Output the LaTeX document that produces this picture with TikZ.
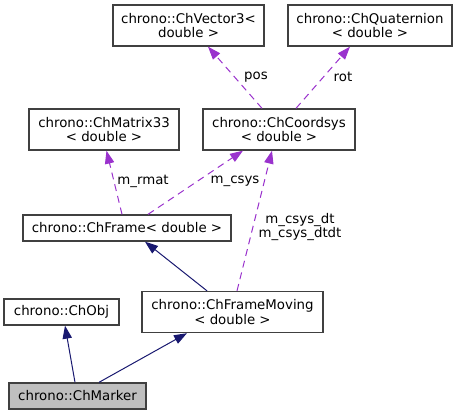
\documentclass[tikz,border=0pt]{standalone}
\usepackage{fontspec}
\setmainfont{DejaVu Sans}
\usetikzlibrary{arrows.meta,calc}
\definecolor{navy}{HTML}{191970}
\definecolor{orchid}{HTML}{9A32CD}
\definecolor{border}{HTML}{404040}
\definecolor{markfill}{HTML}{BFBFBF}
\tikzset{
  cls/.style={draw=border, line width=1pt, fill=white, inner sep=0pt, align=center,
    font=\fontsize{10}{11.2}\selectfont, minimum height=#1},
  cls/.default=30.75pt,
  inh/.style={draw=navy, line width=0.75pt, -{Triangle[length=9.75pt,width=7pt]}},
  use/.style={draw=orchid, line width=0.75pt, dash pattern=on 5.25pt off 3.75pt, -{Triangle[length=9.75pt,width=7pt]}},
  lbl/.style={font=\fontsize{10}{10.5}\selectfont, align=center, inner sep=0pt}
}
\begin{document}
\begin{tikzpicture}[x=0.75pt,y=-0.75pt]
\useasboundingbox (0,0) rectangle (457,415);
\node[cls, minimum width=113.25pt] (vec) at (188.5,25.5) {chrono::ChVector3<\\double >};
\node[cls, minimum width=123pt] (quat) at (370,25.5) {chrono::ChQuaternion\\< double >};
\node[cls, minimum width=114pt] (coord) at (279,129.5) {chrono::ChCoordsys\\< double >};
\node[cls, minimum width=112.5pt] (mat) at (104,129.5) {chrono::ChMatrix33\\< double >};
\node[cls=19.5pt, minimum width=156pt] (frame) at (127,228) {chrono::ChFrame< double >};
\node[cls, minimum width=135.75pt] (fmov) at (232.5,312) {chrono::ChFrameMoving\\< double >};
\node[cls=19.5pt, minimum width=86.25pt] (obj) at (61.5,312) {chrono::ChObj};
\node[cls=19.5pt, minimum width=102.75pt, fill=markfill] (marker) at (77.5,396) {chrono::ChMarker};

\draw[use] ($(coord.north)+(-17,0)$) -- ($(vec.south)+(19.5,0)$);
\draw[use] ($(coord.north)+(17,0)$) -- ($(quat.south)+(-20,0)$);
\draw[use] ($(frame.north)+(-5,0)$) -- ($(mat.south)+(2.5,0)$);
\draw[use] ($(frame.north)+(21,0)$) -- ($(coord.south)+(-36,0)$);
\draw[use] ($(fmov.north)+(4.5,0)$) -- ($(coord.south)+(-7,0)$);
\draw[inh] ($(fmov.north)+(-25.5,0)$) -- ($(frame.south)+(18,0)$);
\draw[inh] ($(marker.north)+(-2.5,0)$) -- ($(obj.south)+(3.5,0)$);
\draw[inh] ($(marker.north)+(21.5,0)$) -- ($(fmov.south)+(-45.5,0)$);

\node[lbl] (lpos) at (256,77) {pos};
\node[lbl] (lrot) at (343,77) {rot};
\node[lbl] (lrmat) at (143,181) {m\_rmat};
\node[lbl] (lcsys) at (235,181) {m\_csys};
\node[lbl] (ldt) at (300,227.5) {m\_csys\_dt\\m\_csys\_dtdt};
\end{tikzpicture}
\end{document}
